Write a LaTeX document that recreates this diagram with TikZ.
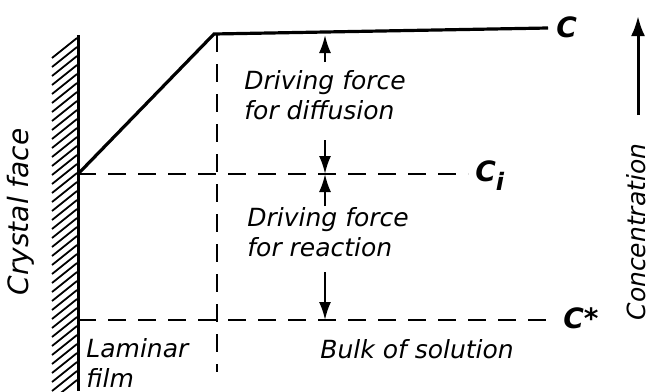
\documentclass[tikz,border=0pt]{standalone}
\usepackage{fontspec}
\setsansfont{DejaVu Sans}
\usetikzlibrary{arrows.meta}
\tikzset{
  profile/.style={line width=1.6pt, line join=miter},
  guide/.style={line width=1pt, dash pattern=on 9pt off 6pt},
  force/.style={line width=1.1pt, -{Latex[length=9pt, width=6pt]}},
  caption/.style={font=\fontsize{12.5}{15}\selectfont\sffamily\itshape, align=left, inner sep=0pt},
  conc/.style={font=\fontsize{14}{15}\selectfont\sffamily\itshape\bfseries, inner sep=0pt},
}

\begin{document}
\begin{tikzpicture}[x=0.5pt, y=-0.5pt]
  \useasboundingbox (0,0) rectangle (651,391);

  % --- CRYSTAL FACE ---
  \foreach \y in {38,47,...,386} {
    \draw[line width=0.9pt] (52,\y+20) -- (77,\y);
  }
  \draw[line width=1.5pt] (78,35) -- (78,391);
  \node[caption, rotate=90, font=\fontsize{14}{15}\selectfont\sffamily\itshape] (face) at (21,212) {Crystal face};

  % --- POINTS ---
  \coordinate (wi) at (78,174);
  \coordinate (ws) at (78,320);
  \coordinate (knee) at (214,34);
  \coordinate (cend) at (548,28);
  \coordinate (filmtop) at (217,34);
  \coordinate (filmbot) at (217,372);
  \coordinate (ciend) at (468,174);
  \coordinate (csend) at (557,320);

  % --- LABELS ---
  \node[conc, anchor=west] (C) at (556,27) {C};
  \node[conc, anchor=west] (Ci) at (475,176) {C\raisebox{-0.6ex}{\fontsize{12}{13}\selectfont i}};
  \node[conc, anchor=west] (Cs) at (563,318) {C*};

  % --- CONCENTRATION PROFILE ---
  \draw[profile] (wi) -- (knee) -- (cend);
  \draw[guide] (filmtop) -- (filmbot);
  \draw[guide] (wi) -- (ciend);
  \draw[guide] (ws) -- (csend);

  % --- DRIVING FORCES ---
  \node[caption, anchor=north west] (diff) at (244,70) {Driving force\\for diffusion};
  \node[caption, anchor=north west] (reac) at (247,207) {Driving force\\for reaction};
  \coordinate (a1) at (325,62);
  \coordinate (a1t) at (325,35);
  \coordinate (a2) at (325,140);
  \coordinate (a2t) at (325,174);
  \coordinate (a3) at (325,206);
  \coordinate (a4) at (325,272);
  \coordinate (a4t) at (325,320);
  \draw[force] (a1) -- (a1t);
  \draw[force] (a2) -- (a2t);
  \draw[force] (a3) -- (a2t);
  \draw[force] (a4) -- (a4t);

  \node[caption, anchor=north west] (film) at (86,338) {Laminar\\film};
  \node[caption, anchor=north west] (bulk) at (320,339) {Bulk of solution};

  % --- AXIS ---
  \coordinate (axbot) at (638,115);
  \coordinate (axtop) at (638,16);
  \draw[line width=1.5pt, -{Latex[length=10pt, width=7pt]}] (axbot) -- (axtop);
  \node[caption, rotate=90] (axis) at (636,232) {Concentration};
\end{tikzpicture}
\end{document}
